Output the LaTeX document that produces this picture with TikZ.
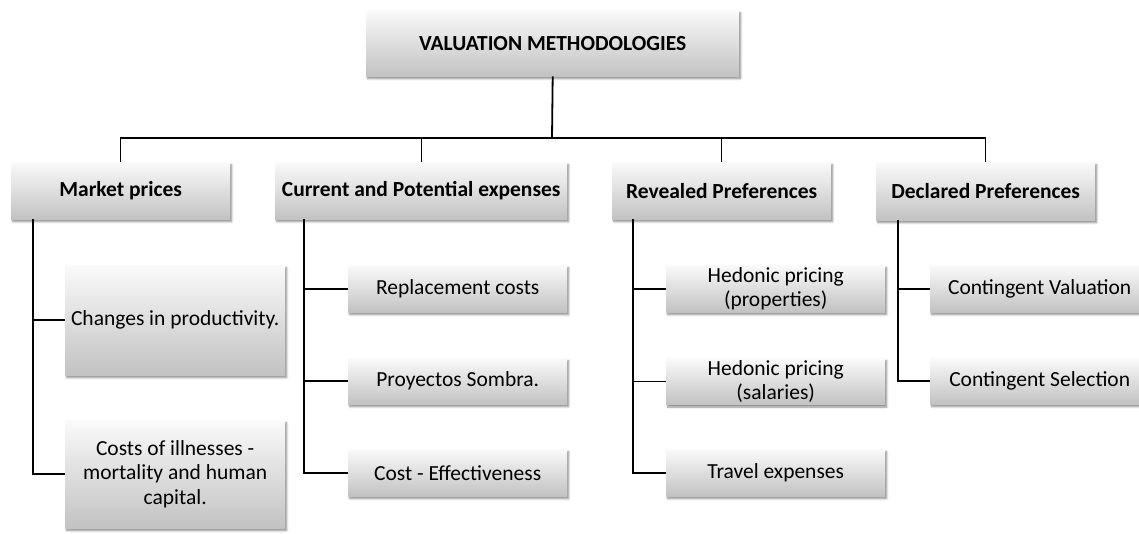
\documentclass[tikz,border=0pt]{standalone}
\usepackage{fontspec}
\setmainfont{Carlito}
\usetikzlibrary{shadows.blur}
\definecolor{boxtop}{RGB}{250,250,250}
\definecolor{boxbot}{RGB}{194,194,194}
\begin{document}
\begin{tikzpicture}[x=1pt,y=-1pt,
  box/.style={rectangle, top color=boxtop, bottom color=boxbot, draw=none,
    anchor=north west, inner sep=2pt, align=center,
    font=\fontsize{21.5}{24.5}\selectfont,
    blur shadow={shadow xshift=1.5pt, shadow yshift=-2.5pt,
      shadow blur steps=6, shadow opacity=45}},
  head/.style={box, font=\fontsize{21.5}{24}\selectfont\bfseries},
  link/.style={draw=black, line width=1.8pt},
  buslink/.style={draw=black, line width=1.4pt}]
\useasboundingbox (0,0) rectangle (1139,534);

% top node
\node[head, minimum width=373pt, minimum height=66pt] (root) at (366,10) {VALUATION METHODOLOGIES};

% second level
\node[head, minimum width=219pt, minimum height=57pt] (mp) at (11,162) {Market prices};
\node[head, minimum width=292pt, minimum height=57pt] (cp) at (275,162) {Current and Potential expenses};
\node[head, minimum width=219pt, minimum height=57pt] (rp) at (612,162) {Revealed Preferences};
\node[head, minimum width=219pt, minimum height=58pt] (dp) at (876,162) {Declared Preferences};

% market prices
\node[box, minimum width=220pt, minimum height=110pt] (chg) at (65,265) {Changes in productivity.};
\node[box, minimum width=220pt, minimum height=108pt] (ill) at (65,420) {Costs of illnesses -\\mortality and human\\capital.};

% current and potential expenses
\node[box, minimum width=219pt, minimum height=47pt] (rep) at (348,265) {Replacement costs};
\node[box, minimum width=219pt, minimum height=46pt] (pro) at (348,358) {Proyectos Sombra.};
\node[box, minimum width=219pt, minimum height=47pt] (cef) at (348,449) {Cost - Effectiveness};

% revealed preferences
\node[box, minimum width=219pt, minimum height=47pt] (hp) at (666,265) {Hedonic pricing\\(properties)};
\node[box, minimum width=219pt, minimum height=46pt] (hs) at (666,358) {Hedonic pricing\\(salaries)};
\node[box, minimum width=219pt, minimum height=47pt] (tr) at (666,449) {Travel expenses};

% declared preferences
\node[box, minimum width=219pt, minimum height=47pt] (cv) at (930,265) {Contingent Valuation};
\node[box, minimum width=219pt, minimum height=46pt] (cs) at (930,358) {Contingent Selection};

% tree connectors
\coordinate (bus) at (552,138);
\draw[link] (root.south) -- (bus);
\draw[buslink] (bus) -| (mp.north);
\draw[buslink] (bus) -| (cp.north);
\draw[buslink] (bus) -| (rp.north);
\draw[buslink] (bus) -| (dp.north);

\draw[link] ([xshift=22pt]mp.south west) |- (chg.west);
\draw[link] ([xshift=22pt]mp.south west) |- (ill.west);

\draw[link] ([xshift=29pt]cp.south west) |- (rep.west);
\draw[link] ([xshift=29pt]cp.south west) |- (pro.west);
\draw[link] ([xshift=29pt]cp.south west) |- (cef.west);

\draw[link] ([xshift=21pt]rp.south west) |- (hp.west);
\draw[link] ([xshift=21pt]rp.south west) |- (hs.west);
\draw[link] ([xshift=21pt]rp.south west) |- (tr.west);

\draw[link] ([xshift=22pt]dp.south west) |- (cv.west);
\draw[link] ([xshift=22pt]dp.south west) |- (cs.west);
\end{tikzpicture}
\end{document}
